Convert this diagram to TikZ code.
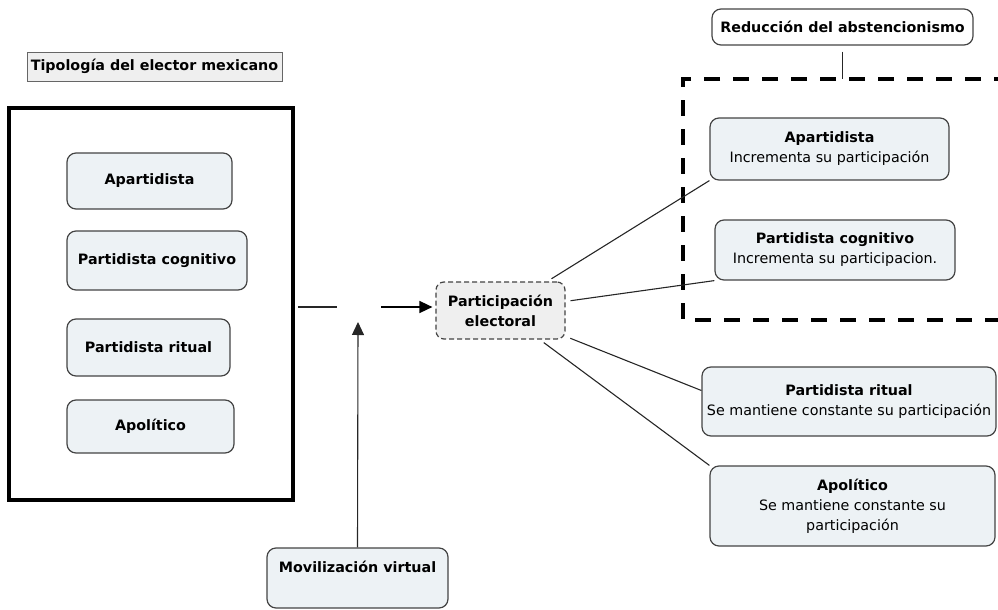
\documentclass[tikz,border=0pt]{standalone}
\usepackage{fontspec}
\setmainfont{DejaVu Sans}
\usepackage{xcolor}
\usetikzlibrary{arrows.meta}

\definecolor{tfill}{HTML}{EDF2F5}
\definecolor{gfill}{HTML}{EFEFEF}
\definecolor{bord}{HTML}{444444}

\tikzset{
  tipo/.style={draw=bord, line width=1.2pt, fill=tfill, rounded corners=9pt, inner sep=0pt, font=\bfseries},
  resul/.style={draw=bord, line width=1.2pt, fill=tfill, rounded corners=9pt, inner sep=0pt, align=center},
  liga/.style={line width=1.1pt, black!85},
  flecha/.style={-{Triangle[length=13pt,width=12pt]}},
}

\begin{document}
\fontsize{14.3}{20}\selectfont
\begin{tikzpicture}[x=1pt,y=-1pt]
\useasboundingbox (0,0) rectangle (998,610);

% tipologia
\node [draw=black!60, fill=gfill, inner sep=0pt, minimum width=255pt, minimum height=29pt, font=\bfseries] (titulo) at (154.5,66.5) {Tipología del elector mexicano};
\node [draw, line width=3.5pt, inner sep=0pt, minimum width=284pt, minimum height=392pt] (tipos) at (151,304) {};
\node [tipo, minimum width=165pt, minimum height=56pt] (a1) at (149.5,181) {Apartidista};
\node [tipo, minimum width=180pt, minimum height=59pt] (a2) at (157,260.5) {Partidista cognitivo};
\node [tipo, minimum width=163pt, minimum height=57pt] (a3) at (148.5,347.5) {Partidista ritual};
\node [tipo, minimum width=167pt, minimum height=53pt] (a4) at (150.5,426.5) {Apolítico};

% centro
\coordinate (m) at (358,307);
\node [draw=bord, dash pattern=on 5pt off 3pt, line width=1.2pt, fill=gfill, rounded corners=8pt, inner sep=0pt, minimum width=129pt, minimum height=57pt, align=center, font=\bfseries] (part) at (500.5,310.5) {Participación\\electoral};
\node [tipo, minimum width=181pt, minimum height=60pt, text depth=22pt] (movil) at (357.5,578) {Movilización virtual};

% resultados
\node [draw=bord, line width=1.2pt, fill=white, rounded corners=9pt, inner sep=0pt, minimum width=261pt, minimum height=36pt, font=\bfseries] (reduc) at (842.5,27) {Reducción del abstencionismo};
\coordinate (fr) at (683,79);
\node [resul, minimum width=239pt, minimum height=62pt] (r1) at (829.5,149) {\textbf{Apartidista}\\Incrementa su participación};
\node [resul, minimum width=240pt, minimum height=60pt] (r2) at (835,250) {\textbf{Partidista cognitivo}\\Incrementa su participacion.};
\node [resul, minimum width=294pt, minimum height=69pt] (r3) at (849,401.5) {\textbf{Partidista ritual}\\Se mantiene constante su participación};
\node [resul, minimum width=285pt, minimum height=80pt] (r4) at (852.5,506) {\textbf{Apolítico}\\Se mantiene constante su\\participación};

\draw [line width=3.5pt, dash pattern=on 16pt off 13pt] (1010,79) -- (fr) -- (683,320) -- (1010,320);
\draw [liga, shorten <=6pt] (reduc.south) -- (reduc.south |- fr);

\draw [liga, shorten <=3pt] (tipos.east |- m) -- ([xshift=-21pt]m);
\draw [flecha, line width=1.6pt, shorten >=3pt] ([xshift=23pt]m) -- (part.west |- m);
\draw [flecha, liga] (movil.north) -- ([yshift=-15pt]m);

\draw [liga, shorten <=5pt] (part) -- (r1.south west);
\draw [liga, shorten <=5pt] (part) -- (r2.south west);
\draw [liga, shorten <=5pt] (part) -- ([yshift=11pt]r3.west);
\draw [liga, shorten <=5pt] (part) -- (r4.north west);
\end{tikzpicture}
\end{document}
